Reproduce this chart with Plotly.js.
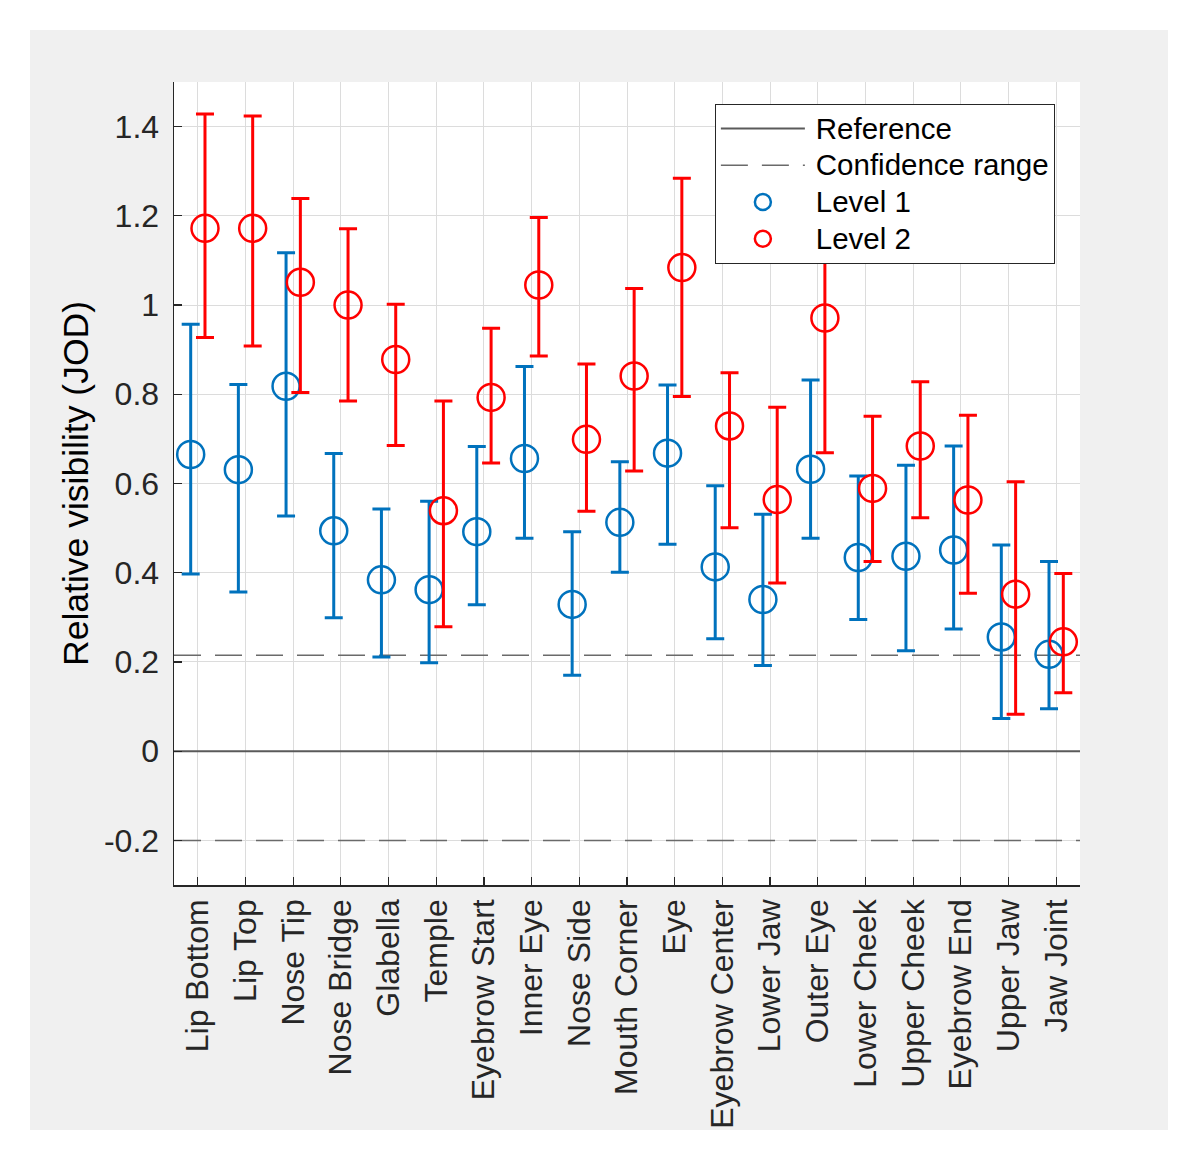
<!DOCTYPE html>
<html>
<head>
<meta charset="utf-8">
<script src="https://cdn.plot.ly/plotly-3.0.1.min.js"></script>
<style>
  html, body { margin:0; padding:0; background:#ffffff; }
  #plot { position:absolute; left:30px; top:30px; width:1138px; height:1100px; }
</style>
</head>
<body>
<div id="plot"></div>
<script>
// ---- data ----
const categories = ["Lip Bottom","Lip Top","Nose Tip","Nose Bridge","Glabella","Temple","Eyebrow Start","Inner Eye","Nose Side","Mouth Corner","Eye","Eyebrow Center","Lower Jaw","Outer Eye","Lower Cheek","Upper Cheek","Eyebrow End","Upper Jaw","Jaw Joint"];

const level1Mean  = [0.665, 0.631, 0.818, 0.494, 0.384, 0.362, 0.492, 0.656, 0.329, 0.513, 0.668, 0.413, 0.340, 0.632, 0.434, 0.437, 0.451, 0.256, 0.217];
const level1Upper = [0.957, 0.822, 1.117, 0.667, 0.543, 0.560, 0.683, 0.862, 0.492, 0.649, 0.821, 0.595, 0.531, 0.832, 0.617, 0.641, 0.684, 0.462, 0.425];
const level1Lower = [0.397, 0.357, 0.527, 0.299, 0.211, 0.198, 0.328, 0.477, 0.170, 0.401, 0.464, 0.252, 0.192, 0.477, 0.295, 0.225, 0.274, 0.073, 0.095];

const level2Mean  = [1.172, 1.172, 1.051, 1.000, 0.878, 0.539, 0.793, 1.045, 0.699, 0.841, 1.084, 0.729, 0.564, 0.971, 0.589, 0.684, 0.563, 0.352, 0.245];
const level2Upper = [1.428, 1.424, 1.239, 1.171, 1.002, 0.785, 0.948, 1.196, 0.868, 1.037, 1.284, 0.848, 0.771, 1.270, 0.751, 0.828, 0.753, 0.604, 0.398];
const level2Lower = [0.927, 0.908, 0.804, 0.785, 0.685, 0.279, 0.646, 0.886, 0.538, 0.628, 0.795, 0.501, 0.377, 0.669, 0.425, 0.523, 0.354, 0.083, 0.131];

const referenceLevel = 0;
const confidenceHigh = 0.215;
const confidenceLow = -0.2;

const yTickValues = [-0.2, 0, 0.2, 0.4, 0.6, 0.8, 1, 1.2, 1.4];
const yTickLabels = ["-0.2", "0", "0.2", "0.4", "0.6", "0.8", "1", "1.2", "1.4"];

const legendNames = ["Reference", "Confidence range", "Level 1", "Level 2"];

// ---- build traces ----
const catPos = categories.map((c, i) => i + 1);
const groupOffset = 0.15;
const xMin = 0.5, xMax = categories.length + 0.5;

const BLUE = '#0072BD';
const RED = '#FF0000';

function legendLabel(t) {
  return '<span style="font-size:29.5px">\u2009' + t + '</span>';
}

function errTrace(name, mean, upper, lower, color, offset) {
  return {
    type: 'scatter',
    mode: 'markers',
    name: legendLabel(name),
    x: catPos.map(p => p + offset),
    y: mean,
    marker: { symbol: 'circle-open', size: 27, color: color, line: { width: 2.5, color: color } },
    error_y: {
      type: 'data', symmetric: false,
      array: upper.map((u, i) => u - mean[i]),
      arrayminus: lower.map((l, i) => mean[i] - l),
      color: color, thickness: 3, width: 9
    },
    hoverinfo: 'skip'
  };
}

const traces = [
  {
    type: 'scatter', mode: 'lines', name: legendLabel(legendNames[0]),
    x: [xMin, xMax], y: [referenceLevel, referenceLevel],
    line: { color: '#5a5a5a', width: 2 }, hoverinfo: 'skip'
  },
  {
    type: 'scatter', mode: 'lines', name: legendLabel(legendNames[1]),
    x: [xMin, xMax, null, xMin, xMax],
    y: [confidenceHigh, confidenceHigh, null, confidenceLow, confidenceLow],
    line: { color: '#6a6a6a', width: 1.5, dash: '27px,14px' }, hoverinfo: 'skip'
  },
  errTrace(legendNames[2], level1Mean, level1Upper, level1Lower, BLUE, -groupOffset),
  errTrace(legendNames[3], level2Mean, level2Upper, level2Lower, RED, groupOffset)
];

const axisColor = '#262626';
const layout = {
  width: 1138, height: 1100,
  paper_bgcolor: '#f0f0f0',
  plot_bgcolor: '#ffffff',
  margin: { l: 144, r: 88, t: 52, b: 245, pad: 0 },
  font: { family: 'Liberation Sans, Arial, Helvetica, sans-serif', color: axisColor },
  showlegend: true,
  xaxis: {
    range: [xMin, xMax],
    tickvals: catPos, ticktext: categories,
    tickangle: -90,
    ticks: 'inside', ticklen: 8, tickwidth: 1.2, tickcolor: axisColor,
    showline: true, linecolor: axisColor, linewidth: 1.5, mirror: false,
    showgrid: true, gridcolor: '#dcdcdc', gridwidth: 1,
    zeroline: false,
    tickfont: { size: 32, color: axisColor },
    ticklabelstandoff: 0,
    automargin: false
  },
  yaxis: {
    range: [-0.3, 1.5],
    tickvals: yTickValues, ticktext: yTickLabels,
    ticks: 'inside', ticklen: 8, tickwidth: 1.2, tickcolor: axisColor,
    showline: true, linecolor: axisColor, linewidth: 1.5, mirror: false,
    showgrid: true, gridcolor: '#dcdcdc', gridwidth: 1,
    zeroline: false,
    tickfont: { size: 32, color: axisColor },
    ticklabelstandoff: 7,
    title: { text: 'Relative visibility (JOD)', font: { size: 35.5, color: '#000000' }, standoff: 4 },
    automargin: false
  },
  legend: {
    x: 0.597, y: 0.9726, xanchor: 'left', yanchor: 'top',
    bgcolor: '#ffffff', bordercolor: axisColor, borderwidth: 1,
    font: { size: 26, color: '#000000' },
    itemwidth: 84, tracegroupgap: 0,
    itemclick: false, itemdoubleclick: false
  }
};

Plotly.newPlot('plot', traces, layout, { displayModeBar: false, staticPlot: true });
</script>
</body>
</html>
